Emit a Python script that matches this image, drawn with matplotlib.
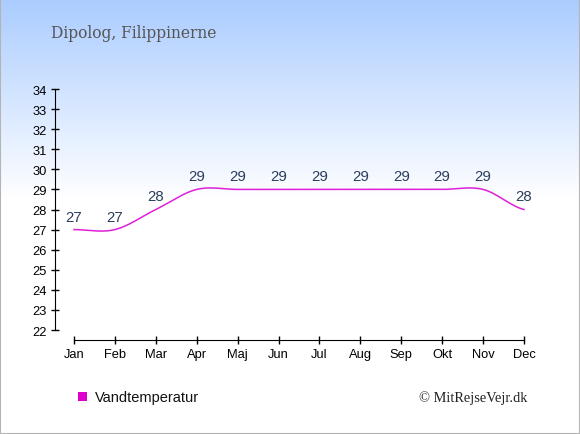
import numpy as np
import matplotlib
matplotlib.use("Agg")
import matplotlib.pyplot as plt
from matplotlib.patches import Rectangle

months = ["Jan", "Feb", "Mar", "Apr", "Maj", "Jun", "Jul", "Aug", "Sep", "Okt", "Nov", "Dec"]
water_temp = [27, 27, 28, 29, 29, 29, 29, 29, 29, 29, 29, 28]
yticks = list(range(22, 35))
title = "Dipolog, Filippinerne"
series_name = "Vandtemperatur"
credit = "\u00a9 MitRejseVejr.dk"

W, H = 580, 435
fig = plt.figure(figsize=(W / 100, H / 100), dpi=100)

# background gradient
bg = fig.add_axes([0, 0, 1, 1], zorder=-10)
rows = np.linspace(0, 1, H)
top = np.array([0xaa, 0xcc, 0xff]) / 255.0
white = np.array([1.0, 1.0, 1.0])
frac = np.clip(rows / (200 / H), 0, 1)[:, None]
grad = top * (1 - frac) + white * frac
img = np.repeat(grad[:, None, :], W, axis=1)
bg.imshow(img, aspect="auto", extent=[0, 1, 0, 1], origin="upper")
bg.set_axis_off()
fig.patches.append(Rectangle((0, 0), 1, 1, transform=fig.transFigure, fill=False,
                             edgecolor="#b4b4b4", linewidth=1.5, zorder=20))

# plot axes in pixel layout
x_left_px, x_right_px = 55, 545
y_bottom_px, y_top_px = 341, 88
ax = fig.add_axes([x_left_px / W, (H - y_bottom_px) / H,
                   (x_right_px - x_left_px) / W, (y_bottom_px - y_top_px) / H])
ax.patch.set_alpha(0)
unit_x = (524 - 74) / 11
ax.set_xlim(-(74 - x_left_px) / unit_x, 11 + (x_right_px - 524) / unit_x)
unit_y = (331 - 90) / 12
ax.set_ylim(22 - (y_bottom_px - 331) / unit_y, 34 + (90 - y_top_px) / unit_y)

x = np.arange(len(months))
y = np.array(water_temp, dtype=float)

# Catmull-Rom style smooth curve through the points
tang = np.zeros_like(y)
tang[1:-1] = (y[2:] - y[:-2]) / 2
tang[0] = (y[1] - y[0]) / 2
tang[-1] = (y[-1] - y[-2]) / 2
xs, ys = [], []
for i in range(len(y) - 1):
    t = np.linspace(0, 1, 40)
    h00 = 2 * t**3 - 3 * t**2 + 1
    h10 = t**3 - 2 * t**2 + t
    h01 = -2 * t**3 + 3 * t**2
    h11 = t**3 - t**2
    xs.append(x[i] + t)
    ys.append(h00 * y[i] + h10 * tang[i] + h01 * y[i + 1] + h11 * tang[i + 1])
ax.plot(np.concatenate(xs), np.concatenate(ys), color="#e020d8", linewidth=1.1)

for xi, yi in zip(x, water_temp):
    ax.annotate(f"{yi}", (xi, yi), xytext=(0, 6.5), textcoords="offset points",
                ha="center", va="baseline", fontsize=10.8, color="#2c3e5e",
                family="Liberation Sans")

for s in ["top", "right"]:
    ax.spines[s].set_visible(False)
ax.spines["left"].set_bounds(22, 34)
ax.spines["bottom"].set_bounds(0, 11)
ax.set_yticks(yticks)
ax.set_yticklabels([str(v) for v in yticks], family="Liberation Sans", fontsize=9.3)
ax.set_xticks(x)
ax.set_xticklabels(months, family="Liberation Sans", fontsize=9.3)
ax.tick_params(axis="both", direction="inout", length=6, width=1, color="black", labelcolor="black")
ax.tick_params(axis="y", pad=3)
ax.tick_params(axis="x", pad=3)

fig.text(51 / W, 1 - 38 / H, title, fontsize=11.2, color="#555555",
         family="DejaVu Serif", va="baseline", ha="left")

fig.patches.append(Rectangle((78 / W, 1 - 402 / H), 9 / W, 9 / H, transform=fig.transFigure,
                             facecolor="#dd00cc", edgecolor="none"))
fig.text(95 / W, 1 - 402 / H, series_name, fontsize=10.5, color="#111111",
         family="Liberation Sans", va="baseline", ha="left")
fig.text(527 / W, 1 - 402 / H, credit, fontsize=10.4, color="#222222",
         family="Liberation Serif", va="baseline", ha="right")

fig.savefig("out.png", dpi=100)
